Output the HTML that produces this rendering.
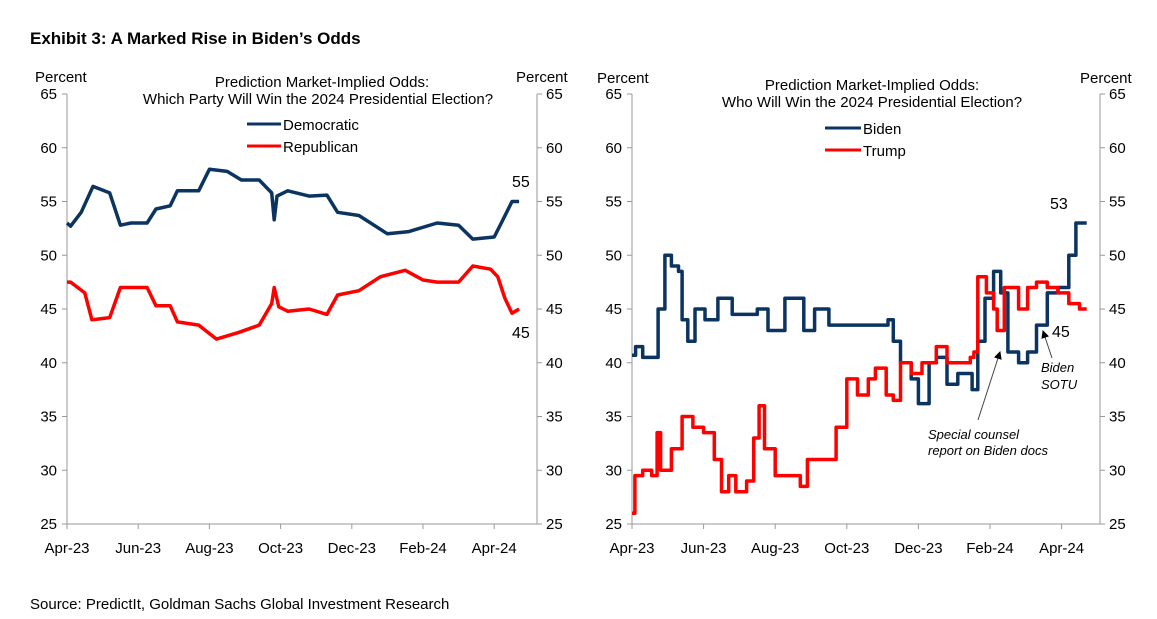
<!DOCTYPE html>
<html><head><meta charset="utf-8"><style>
body{margin:0;background:#fff;}
svg text{font-family:"Liberation Sans",Arial,sans-serif;fill:#000;}
</style></head><body>
<svg width="1157" height="614" xmlns="http://www.w3.org/2000/svg" id="root">
<text x="30" y="44" font-size="17" font-weight="bold">Exhibit 3: A Marked Rise in Biden’s Odds</text>
<text x="30" y="609" font-size="15" fill="#222">Source: PredictIt, Goldman Sachs Global Investment Research</text>
<g id="left"></g>
<g id="right"></g>
</svg>
<script>
const yTicks=[25,30,35,40,45,50,55,60,65];
const xLabels=["Apr-23","Jun-23","Aug-23","Oct-23","Dec-23","Feb-24","Apr-24"];
const demM=[0,0.1,0.4,0.73,1.2,1.5,1.8,2.25,2.5,2.9,3.1,3.7,4.0,4.5,4.9,5.4,5.75,5.82,5.9,6.2,6.8,7.3,7.6,8.2,9.0,9.6,10.4,11.0,11.4,12.0,12.2,12.5,12.7];
const demV=[53,52.7,54,56.4,55.8,52.8,53,53,54.3,54.6,56,56,58,57.8,57,57,55.8,53.3,55.5,56,55.5,55.6,54,53.7,52,52.2,53,52.8,51.5,51.7,53,55,55];
const repM=[0,0.1,0.5,0.7,1.2,1.5,2.25,2.5,2.9,3.1,3.7,4.2,4.8,5.4,5.75,5.82,5.95,6.2,6.8,7.3,7.6,8.2,8.8,9.5,10.0,10.4,11.0,11.4,11.9,12.1,12.3,12.5,12.7];
const repV=[47.5,47.5,46.5,44,44.2,47,47,45.3,45.3,43.8,43.5,42.2,42.8,43.5,45.5,47,45.2,44.8,45,44.5,46.3,46.7,48,48.6,47.7,47.5,47.5,49,48.7,48,46,44.6,45];
const bidM=[0,0.1,0.3,0.55,0.73,0.92,1.1,1.3,1.4,1.56,1.76,2.04,2.4,2.8,3.16,3.5,3.8,4.27,4.6,4.8,5.1,5.5,5.9,6.3,6.7,7.15,7.3,7.5,7.8,8.0,8.3,8.5,8.8,9.1,9.5,9.66,9.86,10.1,10.3,10.5,10.8,11.05,11.3,11.6,11.9,12.2,12.4,12.7];
const bidV=[40.7,41.5,40.5,40.5,45,50,49,48.5,44,42,45,44,46,44.5,44.5,45,43,46,46,43,45,43.5,43.5,43.5,43.5,44,42,40,38.5,36.2,40,40.5,38,39,37.5,42,46,48.5,46.5,41,40,41,43.5,46.5,47,50,53,53];
const trpM=[0,0.08,0.3,0.55,0.7,0.8,1.1,1.4,1.7,2.0,2.3,2.5,2.7,2.9,3.2,3.4,3.55,3.7,4.0,4.3,4.7,4.9,5.4,5.7,6.0,6.3,6.6,6.8,7.1,7.3,7.5,7.8,8.1,8.4,8.5,8.8,9.1,9.45,9.55,9.66,9.9,10.1,10.2,10.4,10.8,11.05,11.3,11.6,11.9,12.2,12.5,12.7];
const trpV=[26,29.5,30,29.5,33.5,30,32,35,34,33.5,31,28,29.5,28,29,33,36,32,29.5,29.5,28.5,31,31,34,38.5,37,38.5,39.5,37,36.5,40,39,40,40,41.5,40,40,40.5,41,48,46.5,45,43,47,45,47,47.5,47,46.5,45.5,45,45];

const NS="http://www.w3.org/2000/svg";
function mk(p,tag,a,txt){const e=document.createElementNS(NS,tag);for(const k in a)e.setAttribute(k,a[k]);if(txt!==undefined)e.textContent=txt;p.appendChild(e);return e;}
function chart(g,cfg){
  const X=m=>cfg.x0+m*cfg.pm, Y=v=>524-(v-25)*10.75;
  const ax=mk(g,'path',{d:`M${cfg.x0} 94V524H${cfg.x1}V94`,fill:'none',stroke:'#999','stroke-width':1});
  
  
  yTicks.forEach(v=>{
    const l=mk(g,'path',{d:`M${cfg.x0-5} ${Y(v)}H${cfg.x0}M${cfg.x1} ${Y(v)}H${cfg.x1+5}`,stroke:'#999'});
    
    
    const a=mk(g,'text',{x:cfg.x0-10,y:Y(v)+5,'font-size':15,'text-anchor':'end',fill:'#222'},v);
    
    
    const b=mk(g,'text',{x:cfg.x1+9,y:Y(v)+5,'font-size':15,fill:'#222'},v);
    
    
  });
  xLabels.forEach((s,i)=>{
    const t=mk(g,'path',{d:`M${X(i*2)} 524v5`,stroke:'#999'});
    
    
    const l=mk(g,'text',{x:X(i*2),y:553,'font-size':15,'text-anchor':'middle',fill:'#222'},s);
    
    
  });
  cfg.series.forEach(s=>{
    let d='';s.m.forEach((m,i)=>{
      if(!i){d+='M'+X(m).toFixed(1)+' '+Y(s.v[i]).toFixed(1);return;}
      if(cfg.step) d+='H'+X(m).toFixed(1)+'V'+Y(s.v[i]).toFixed(1);
      else d+='L'+X(m).toFixed(1)+' '+Y(s.v[i]).toFixed(1);
    });
    const p=mk(g,'path',{d,fill:'none',stroke:s.c,'stroke-width':3.5,'stroke-linejoin':'round'});
    
    
  });
}
const L=document.getElementById('left'),R=document.getElementById('right');
chart(L,{x0:67,x1:537,pm:35.6,step:false,series:[{m:demM,v:demV,c:'#0b3560',name:'democratic'},{m:repM,v:repV,c:'#ff0000',name:'republican'}]});
chart(R,{x0:632,x1:1100,pm:35.8,step:true,series:[{m:bidM,v:bidV,c:'#0b3560',name:'biden'},{m:trpM,v:trpV,c:'#ff0000',name:'trump'}]});
</script>
<svg width="1157" height="614" style="position:absolute;left:0;top:0" xmlns="http://www.w3.org/2000/svg">
<defs><marker id="ah" markerWidth="8" markerHeight="8" refX="7" refY="4" orient="auto"><path d="M0 0L8 4L0 8z" fill="#000"/></marker></defs>
<g font-family="Liberation Sans, Arial, sans-serif" font-size="15" fill="#222">
<text x="35" y="82">Percent</text>
<text x="516" y="82">Percent</text>
<text x="322" y="87" text-anchor="middle">Prediction Market-Implied Odds:</text>
<text x="318" y="104" text-anchor="middle">Which Party Will Win the 2024 Presidential Election?</text>
<line x1="247" y1="124" x2="281" y2="124" stroke="#0b3560" stroke-width="3"/>
<text x="283" y="130">Democratic</text>
<line x1="247" y1="146" x2="281" y2="146" stroke="#ff0000" stroke-width="3"/>
<text x="283" y="152">Republican</text>
<text x="512" y="187" fill="#666" font-size="16">55</text>
<text x="512" y="338" fill="#666" font-size="16">45</text>
<text x="597" y="83">Percent</text>
<text x="1080" y="83">Percent</text>
<text x="872" y="90" text-anchor="middle">Prediction Market-Implied Odds:</text>
<text x="872" y="107" text-anchor="middle">Who Will Win the 2024 Presidential Election?</text>
<line x1="825" y1="128" x2="861" y2="128" stroke="#0b3560" stroke-width="3"/>
<text x="863" y="134">Biden</text>
<line x1="825" y1="150" x2="861" y2="150" stroke="#ff0000" stroke-width="3"/>
<text x="863" y="156">Trump</text>
<text x="1050" y="209" fill="#666" font-size="16">53</text>
<text x="1052" y="337" fill="#666" font-size="16">45</text>
<g font-style="italic" font-size="13" fill="#000">
<text x="928" y="439">Special counsel</text>
<text x="928" y="455">report on Biden docs</text>
<text x="1041" y="372">Biden</text>
<text x="1041" y="389">SOTU</text>
</g>
<line x1="978" y1="420" x2="1000" y2="352" stroke="#444" marker-end="url(#ah)"/>
<line x1="1052" y1="358" x2="1043" y2="331" stroke="#444" marker-end="url(#ah)"/>
</g>
</svg>
</body></html>
